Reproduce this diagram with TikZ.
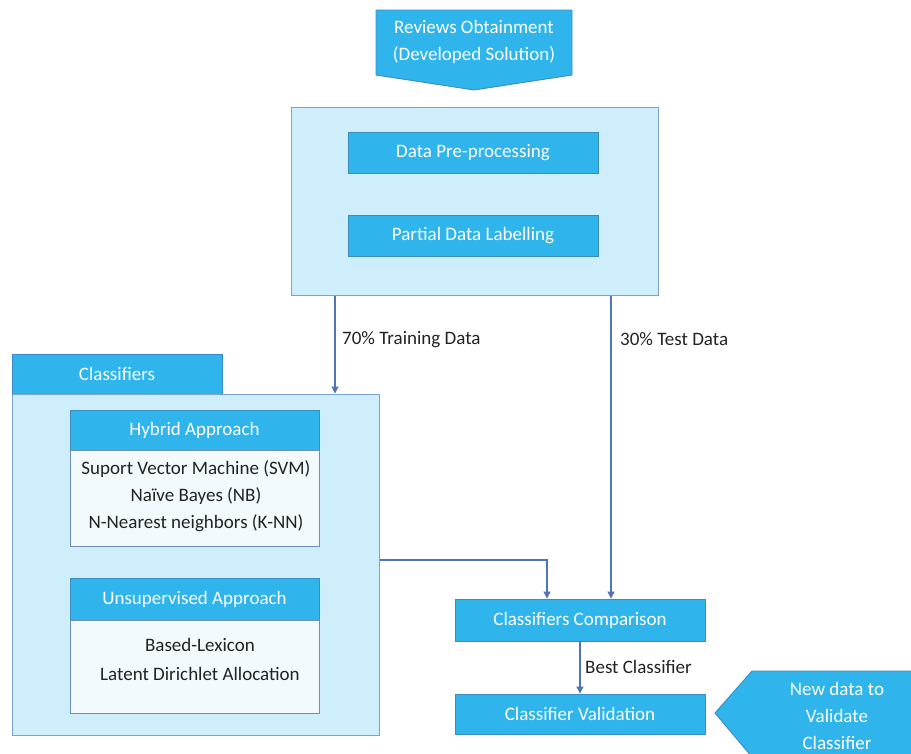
\documentclass[tikz,border=0pt]{standalone}
\usepackage{fontspec}
\setmainfont{Carlito}
\usetikzlibrary{arrows.meta,calc}
\definecolor{bblue}{HTML}{2FB5EC}
\definecolor{bbord}{HTML}{3B8CC2}
\definecolor{lblue}{HTML}{CFEEFB}
\definecolor{lbord}{HTML}{7BA3CF}
\definecolor{pale}{HTML}{F2FAFE}
\definecolor{pbord}{HTML}{6E8FB8}
\definecolor{arrc}{HTML}{4F74BC}
\definecolor{txt}{HTML}{222222}
\tikzset{
  bluebox/.style={draw=bbord, line width=0.9pt, fill=bblue, text=white, inner sep=0pt, font=\fontsize{19}{27}\selectfont},
  lightbox/.style={draw=lbord, line width=1pt, fill=lblue, inner sep=0pt},
  palebox/.style={draw=pbord, line width=0.9pt, fill=pale, inner sep=0pt, text=txt, align=center, font=\fontsize{19}{27}\selectfont},
  arr/.style={draw=arrc, line width=1.1pt, -{Triangle[width=7pt,length=7pt]}},
  lbl/.style={text=txt, font=\fontsize{19}{27}\selectfont, inner sep=0pt},
  bluetext/.style={text=white, align=center, font=\fontsize{19}{27}\selectfont, inner sep=0pt}
}
\begin{document}
\begin{tikzpicture}[x=1pt,y=-1pt]
\useasboundingbox (0,0) rectangle (911,753);
% top pentagon
\draw[draw=bbord, line width=0.9pt, fill=bblue] (376,10) -- (572,10) -- (572,75) -- (474,90) -- (376,75) -- cycle;
\node[bluetext] (rev) at (474,42) {Reviews Obtainment\\(Developed Solution)};
% preprocessing container
\node[lightbox, minimum width=367pt, minimum height=188pt] (prep) at (474.5,201) {};
\node[bluebox, minimum width=250pt, minimum height=41pt] (dpp) at (473,152.5) {Data Pre-processing};
\node[bluebox, minimum width=250pt, minimum height=41pt] (pdl) at (473,235.5) {Partial Data Labelling};
% classifiers
\node[bluebox, minimum width=210pt, minimum height=40pt] (tab) at (117,374) {Classifiers};
\node[lightbox, minimum width=367pt, minimum height=341pt] (cls) at (195.5,564.5) {};
\node[bluebox, minimum width=249pt, minimum height=40pt] (hybh) at (194.5,430) {Hybrid Approach};
\node[palebox, minimum width=249pt, minimum height=96pt] (hybb) at (194.5,498) {};
\node[text=txt, align=center, font=\fontsize{19}{27}\selectfont, inner sep=0pt] (hybt) at (196,496) {Suport Vector Machine (SVM)\\Naïve Bayes (NB)\\N-Nearest neighbors (K-NN)};
\node[bluebox, minimum width=249pt, minimum height=42pt] (unsh) at (194.5,599) {Unsupervised Approach};
\node[palebox, minimum width=249pt, minimum height=93pt] (unsb) at (194.5,666.5) {};
\node[text=txt, align=center, font=\fontsize{19}{29}\selectfont, inner sep=0pt] (unst) at (200,659) {Based-Lexicon\\Latent Dirichlet Allocation};
% comparison and validation
\node[bluebox, minimum width=250pt, minimum height=42pt] (comp) at (580,620) {Classifiers Comparison};
\node[bluebox, minimum width=250pt, minimum height=40pt] (val) at (580,714) {Classifier Validation};
% new data pentagon
\draw[draw=bbord, line width=0.9pt, fill=bblue] (715,713) -- (752,671) -- (915,671) -- (915,757) -- (752,757) -- cycle;
\node[bluetext] (newd) at (837,716) {New data to\\Validate\\Classifier};
% connectors
\coordinate (xl) at (335,0);
\coordinate (xr) at (611,0);
\coordinate (xm) at (547,0);
\coordinate (ym) at (0,560);
\draw[arr] (prep.south -| xl) -- (cls.north -| xl);
\draw[arr] (prep.south -| xr) -- (comp.north -| xr);
\draw[arr] (cls.east |- ym) -- (xm |- ym) -- (comp.north -| xm);
\draw[arr] (comp.south) -- (val.north);
% labels
\node[lbl, anchor=west] (l70) at (342,340) {70\% Training Data};
\node[lbl, anchor=west] (l30) at (620,339) {30\% Test Data};
\node[lbl, anchor=west] (lbest) at (585,667) {Best Classifier};
\end{tikzpicture}
\end{document}
